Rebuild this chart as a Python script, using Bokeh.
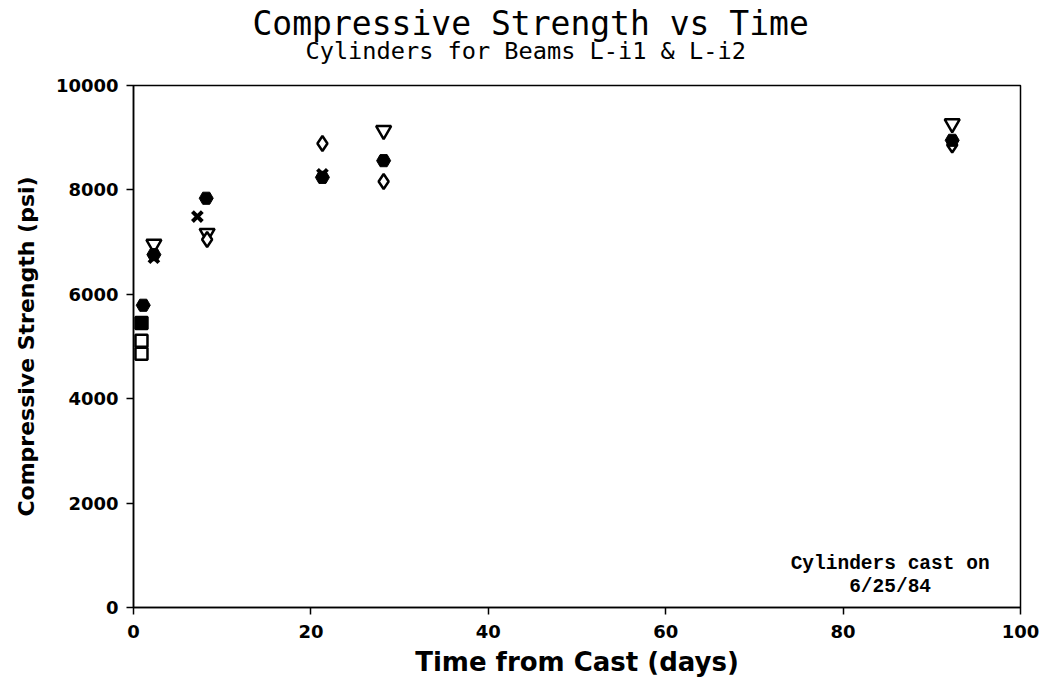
from bokeh.plotting import figure
from bokeh.models import Range1d, Label, FixedTicker, Title
from bokeh.embed import file_html
from bokeh.resources import INLINE

# Data (days from cast, compressive strength psi)
open_sq_days = [0.9, 0.9]
open_sq_psi = [4860, 5110]

filled_sq_days = [0.9]
filled_sq_psi = [5450]

filled_hex_days = [1.1, 2.3, 8.2, 21.3, 28.2, 92.3]
filled_hex_psi = [5790, 6760, 7840, 8240, 8560, 8950]

tri_days = [2.3, 8.3, 28.2, 92.3]
tri_psi = [6960, 7170, 9140, 9270]

diamond_days = [8.3, 21.3, 28.2, 92.3]
diamond_psi = [7050, 8890, 8160, 8860]

x_days = [2.3, 7.2, 21.3]
x_psi = [6700, 7490, 8300]

x_ticks = [0, 20, 40, 60, 80, 100]
y_ticks = [0, 2000, 4000, 6000, 8000, 10000]

title_text = "Compressive Strength vs Time"
subtitle_text = "Cylinders for Beams L-i1 & L-i2"
note_line1 = "Cylinders cast on"
note_line2 = "6/25/84"

p = figure(width=1045, height=680, output_backend="svg", toolbar_location=None,
           x_range=Range1d(0, 100), y_range=Range1d(0, 10000),
           min_border_left=133, min_border_right=25, min_border_top=85,
           min_border_bottom=73, title=None)
p.background_fill_color = "white"
p.border_fill_color = "white"
p.outline_line_color = "black"
p.outline_line_width = 1.5
p.grid.visible = False

AX_FONT = "DejaVu Sans"
TITLE_FONT = "DejaVu Sans Mono"
for ax in (p.xaxis, p.yaxis):
    ax.axis_line_color = "black"
    ax.axis_line_width = 1.5
    ax.major_tick_line_color = "black"
    ax.major_tick_line_width = 1.5
    ax.major_tick_out = 7
    ax.major_tick_in = 0
    ax.minor_tick_line_color = None
    ax.major_label_text_font = AX_FONT
    ax.major_label_text_font_style = "bold"
    ax.major_label_text_font_size = "18px"
    ax.major_label_text_color = "black"
    ax.axis_label_text_font = AX_FONT
    ax.axis_label_text_font_style = "bold"
    ax.axis_label_text_color = "black"

p.xaxis.ticker = FixedTicker(ticks=x_ticks)
p.yaxis.ticker = FixedTicker(ticks=y_ticks)
p.xaxis.major_label_standoff = 10
p.yaxis.major_label_standoff = 8
p.xaxis.axis_label = "Time from Cast (days)"
p.yaxis.axis_label = "Compressive Strength (psi)"
p.xaxis.axis_label_text_font_size = "26px"
p.yaxis.axis_label_text_font_size = "22px"
p.xaxis.axis_label_standoff = 6
p.yaxis.axis_label_standoff = 14

# Titles (subtitle first = closest to the frame)
p.add_layout(Title(text=subtitle_text, align="left", offset=172,
                   text_font=TITLE_FONT, text_font_style="normal",
                   text_font_size="23.6px", text_color="black", standoff=41), "above")
p.add_layout(Title(text=title_text, align="left", offset=119,
                   text_font=TITLE_FONT, text_font_style="normal",
                   text_font_size="33px", text_color="black", standoff=-56), "above")

LW = 2.5
p.scatter(open_sq_days, open_sq_psi, marker="square", size=12,
          fill_color="white", line_color="black", line_width=LW)
p.scatter(filled_sq_days, filled_sq_psi, marker="square", size=12,
          fill_color="black", line_color="black", line_width=LW)
p.scatter(tri_days, tri_psi, marker="inverted_triangle", size=15,
          fill_color="white", line_color="black", line_width=LW)
p.scatter(diamond_days, diamond_psi, marker="diamond", size=15,
          fill_color="white", line_color="black", line_width=LW)
p.scatter(x_days, x_psi, marker="x", size=14,
          line_color="black", line_width=4)
p.scatter(filled_hex_days, filled_hex_psi, marker="hex", size=14,
          fill_color="black", line_color="black", line_width=1)

p.add_layout(Label(x=85.3, y=840, text=note_line1, text_font="Liberation Mono",
                   text_font_style="bold", text_font_size="19.5px", text_color="black",
                   text_align="center", text_baseline="middle"))
p.add_layout(Label(x=85.3, y=385, text=note_line2, text_font="Liberation Mono",
                   text_font_style="bold", text_font_size="19.5px", text_color="black",
                   text_align="center", text_baseline="middle"))

open("out.html", "w").write(file_html(p, INLINE))
